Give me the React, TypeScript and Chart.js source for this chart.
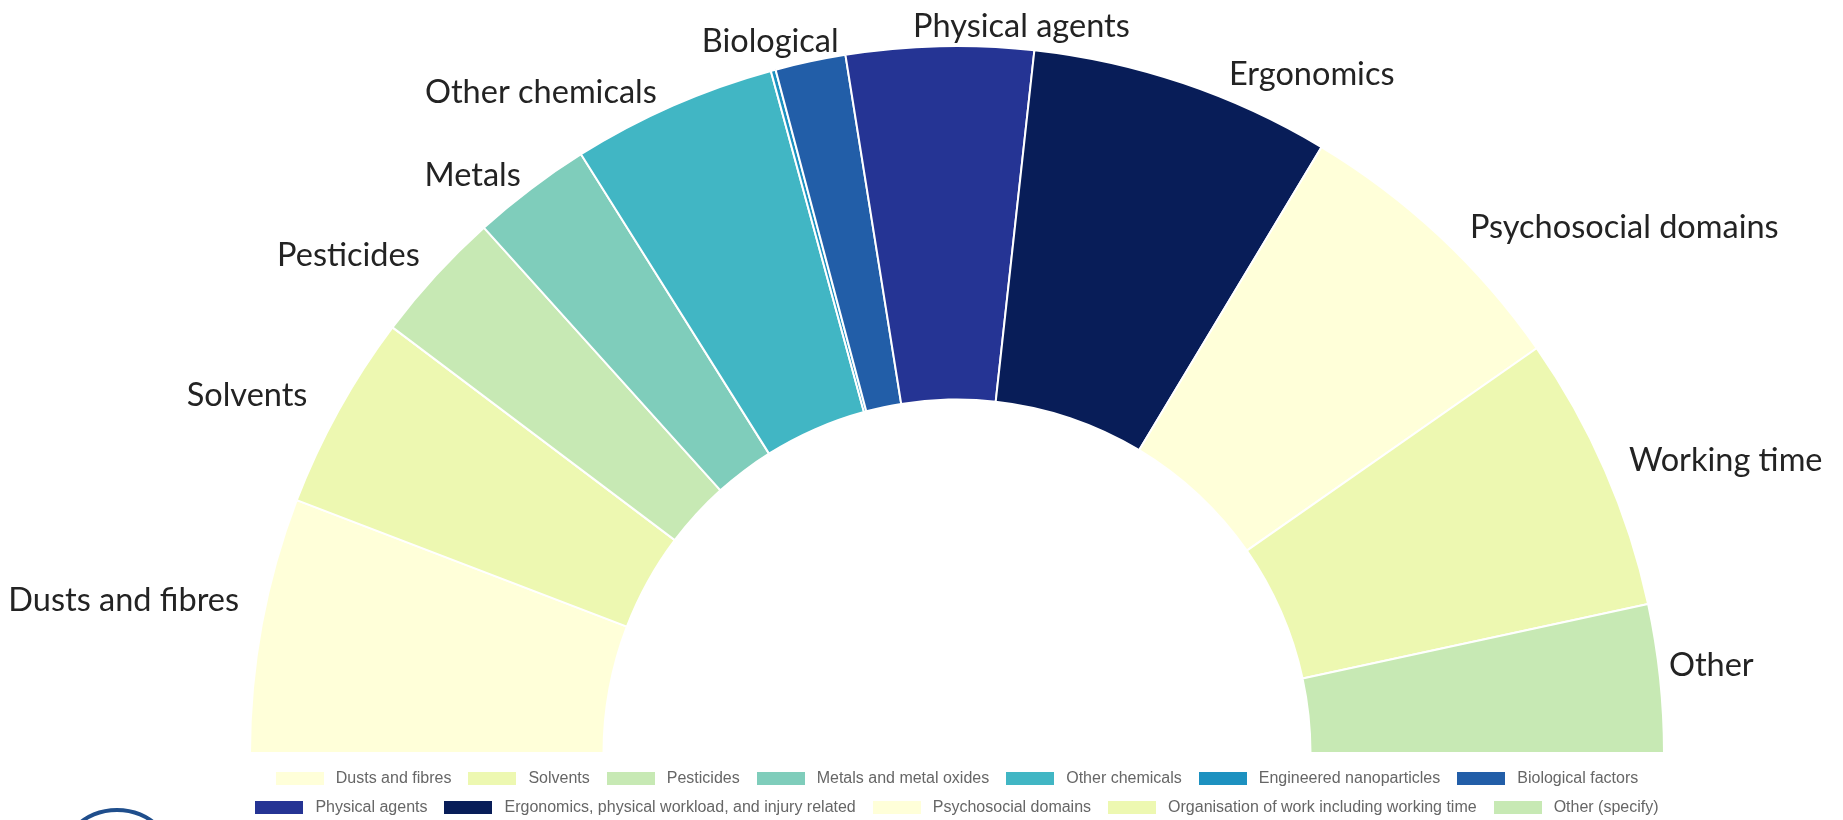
import React, { useEffect, useRef, useState } from "react";
import { Chart, registerables } from "chart.js";

Chart.register(...registerables);

// Exposure domains (legend names)
const CATEGORIES = [
  "Dusts and fibres",
  "Solvents",
  "Pesticides",
  "Metals and metal oxides",
  "Other chemicals",
  "Engineered nanoparticles",
  "Biological factors",
  "Physical agents",
  "Ergonomics, physical workload, and injury related",
  "Psychosocial domains",
  "Organisation of work including working time",
  "Other (specify)",
];

// Short names written around the ring ("" = no outer label)
const RING_LABELS = [
  "Dusts and fibres",
  "Solvents",
  "Pesticides",
  "Metals",
  "Other chemicals",
  "",
  "Biological",
  "Physical agents",
  "Ergonomics",
  "Psychosocial domains",
  "Working time",
  "Other",
];

// Share of each domain
const VALUES = [21, 16.1, 11, 9.9, 16.9, 0.4, 5.8, 15.4, 24.8, 24.1, 22.8, 12.2];

// YlGnBu palette
const COLORS = [
  "#ffffd9",
  "#edf8b1",
  "#c7e9b4",
  "#7fcdbb",
  "#41b6c4",
  "#1d91c0",
  "#225ea8",
  "#253494",
  "#081d58",
  "#ffffd9",
  "#edf8b1",
  "#c7e9b4",
];

// Fine placement of the ring labels relative to each slice's mid-angle anchor
const LABEL_GAP = 15;
const LABEL_NUDGE: [number, number][] = [
  [-8, -21],
  [-18, -8],
  [-5, -10],
  [-1, -1],
  [-10, 1],
  [0, 0],
  [-37, -5],
  [82, -5],
  [41, 6],
  [20, 2],
  [10, -4],
  [-6, -11],
];

const ringLabelsPlugin = {
  id: "ringLabels",
  afterDatasetsDraw(chart: any) {
    const ctx = chart.ctx as CanvasRenderingContext2D;
    const meta = chart.getDatasetMeta(0);
    ctx.save();
    ctx.font = "32.5px Lato, 'Open Sans', sans-serif";
    ctx.fillStyle = "#232323";
    ctx.textBaseline = "middle";
    meta.data.forEach((arc: any, i: number) => {
      const text = RING_LABELS[i];
      if (!text) return;
      const { x, y, startAngle, endAngle, outerRadius } = arc.getProps(
        ["x", "y", "startAngle", "endAngle", "outerRadius"],
        true
      );
      const mid = (startAngle + endAngle) / 2;
      const r = outerRadius + LABEL_GAP;
      const c = Math.cos(mid);
      const [dx, dy] = LABEL_NUDGE[i];
      ctx.textAlign = c < -0.25 ? "right" : c > 0.25 ? "left" : "center";
      ctx.fillText(text, x + r * c + dx, y + r * Math.sin(mid) + dy);
    });
    ctx.restore();
  },
};

type LegendEntry = { text: string; color: string };

export default function App() {
  const canvasRef = useRef<HTMLCanvasElement | null>(null);
  const [legend, setLegend] = useState<LegendEntry[]>([]);

  useEffect(() => {
    if (!canvasRef.current) return;
    const chart = new Chart(canvasRef.current, {
      type: "doughnut",
      data: {
        labels: CATEGORIES,
        datasets: [
          {
            data: VALUES,
            backgroundColor: COLORS,
            borderColor: "#ffffff",
            borderWidth: 2,
          },
        ],
      },
      options: {
        animation: false,
        responsive: false,
        rotation: -90,
        circumference: 180,
        cutout: "50%",
        layout: { padding: { top: 45, bottom: 66, left: 240, right: 169 } },
        plugins: {
          legend: { display: false },
          tooltip: { enabled: false },
        },
      },
      plugins: [ringLabelsPlugin],
    });
    const items = (Chart as any).overrides.doughnut.plugins.legend.labels.generateLabels(chart);
    setLegend(items.map((it: any) => ({ text: it.text, color: it.fillStyle })));
    return () => chart.destroy();
  }, []);

  return (
    <div
      style={{
        position: "fixed",
        left: 0,
        top: 0,
        width: 1843,
        height: 820,
        overflow: "hidden",
        background: "#ffffff",
      }}
    >
      <canvas ref={canvasRef} width={1843} height={820} style={{ display: "block" }} />
      <div
        style={{
          position: "absolute",
          left: 222,
          top: 770,
          width: 1470,
          display: "flex",
          flexWrap: "wrap",
          justifyContent: "center",
          columnGap: 17,
          rowGap: 13,
          fontFamily: "'Liberation Sans', Arial, sans-serif",
          fontSize: 16,
          lineHeight: "16px",
          color: "#666666",
        }}
      >
        {legend.map((it) => (
          <div key={it.text} style={{ display: "flex", alignItems: "center", whiteSpace: "nowrap" }}>
            <span
              style={{
                display: "inline-block",
                width: 48,
                height: 13,
                background: it.color,
                marginRight: 12,
              }}
            />
            <span>{it.text}</span>
          </div>
        ))}
      </div>
      <div
        style={{
          position: "absolute",
          left: 55,
          top: 808,
          width: 124,
          height: 124,
          boxSizing: "border-box",
          border: "4px solid #1f4e8c",
          borderRadius: "50%",
        }}
      />
    </div>
  );
}
